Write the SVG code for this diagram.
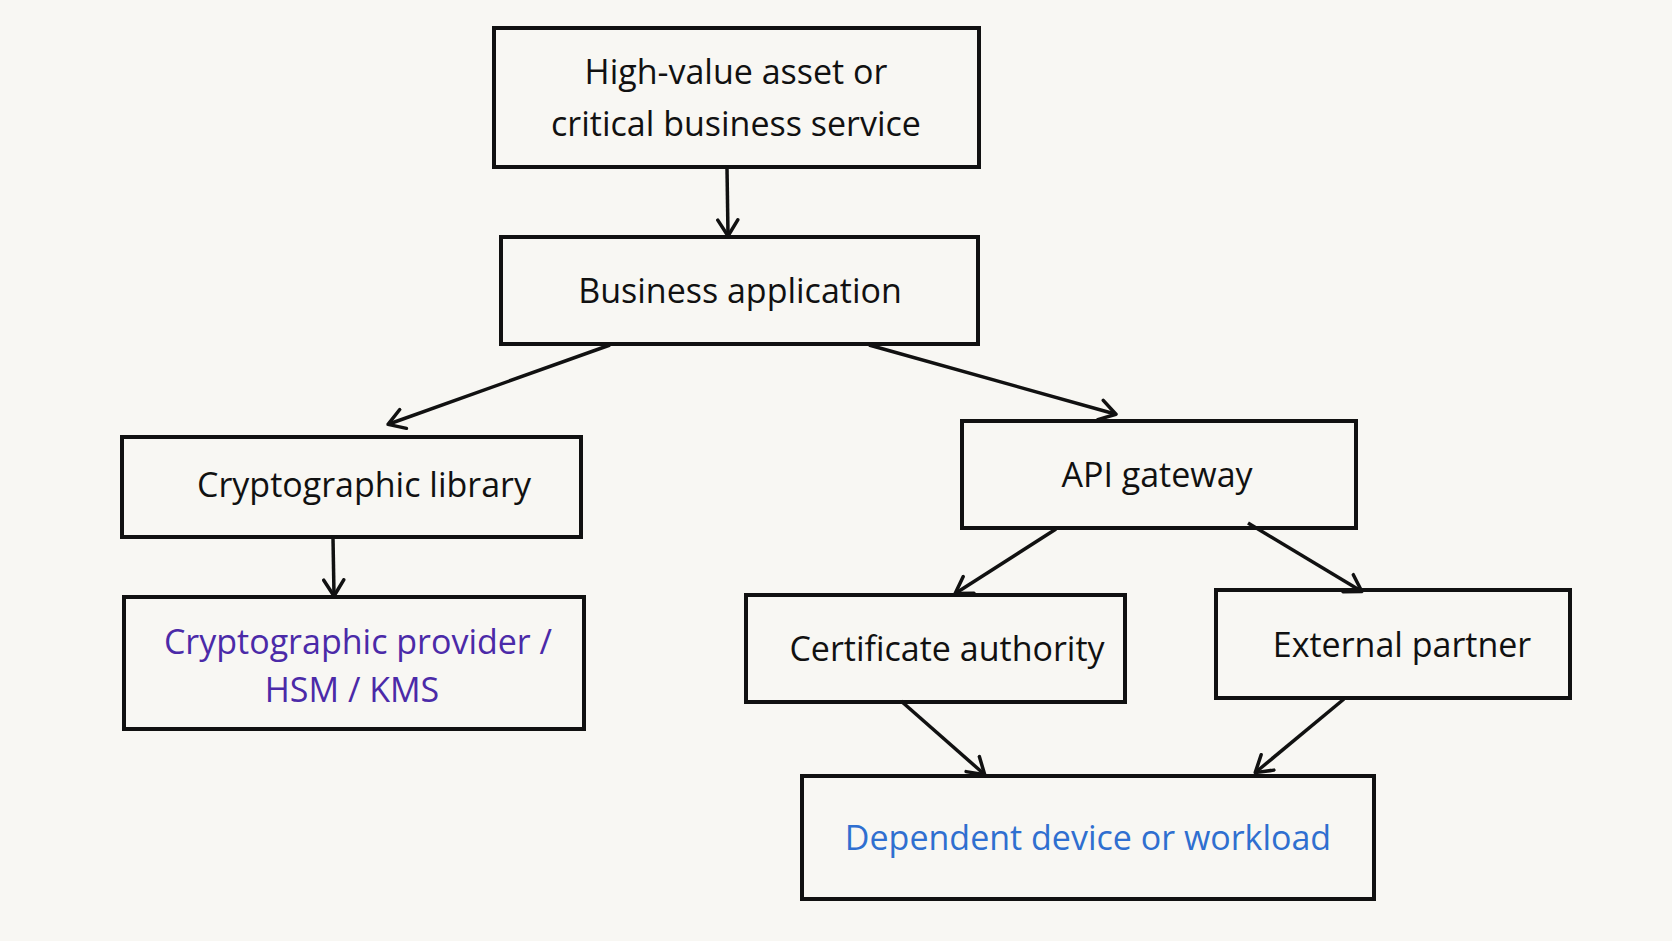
<svg xmlns="http://www.w3.org/2000/svg" width="1672" height="941" viewBox="0 0 1672 941">
<style>
.n{fill:none;stroke:#111;stroke-width:4}
.t{font-family:"Open Sans","Liberation Sans",sans-serif;font-size:34px;fill:#111;text-anchor:middle}
.c{stroke:#111;stroke-width:3.5;fill:none;marker-end:url(#a)}
</style>
<defs><marker id="a" markerWidth="22" markerHeight="24" refX="17" refY="12" orient="auto" markerUnits="userSpaceOnUse"><path d="M2,2 L18,12 L2,22" fill="none" stroke="#111" stroke-width="3.5" stroke-linecap="round" stroke-linejoin="round"/></marker></defs>
<rect width="1672" height="941" fill="#f8f7f3"/>
<g id="connectors">
<line class="c" x1="727" y1="168" x2="728" y2="235"/>
<line class="c" x1="610" y1="345" x2="389" y2="424"/>
<line class="c" x1="869" y1="345" x2="1115" y2="414"/>
<line class="c" x1="333" y1="538" x2="334" y2="595"/>
<line class="c" x1="1056" y1="529" x2="956" y2="593"/>
<line class="c" x1="1248" y1="523" x2="1361" y2="591"/>
<line class="c" x1="901" y1="701" x2="984" y2="774"/>
<line class="c" x1="1344" y1="699" x2="1256" y2="772"/>
</g>
<g id="n1"><rect class="n" x="494" y="28" width="485" height="139"/><text class="t" x="736" y="84">High-value asset or</text><text class="t" x="736" y="136">critical business service</text></g>
<g id="n2"><rect class="n" x="501" y="237" width="477" height="107"/><text class="t" x="740" y="303">Business application</text></g>
<g id="n3"><rect class="n" x="122" y="437" width="459" height="100"/><text class="t" x="364" y="497">Cryptographic library</text></g>
<g id="n4"><rect class="n" x="124" y="597" width="460" height="132"/><text class="t" x="358" y="654" style="fill:#4b2aa8">Cryptographic provider /</text><text class="t" x="352" y="702" style="fill:#4b2aa8">HSM / KMS</text></g>
<g id="n5"><rect class="n" x="962" y="421" width="394" height="107"/><text class="t" x="1157" y="487">API gateway</text></g>
<g id="n6"><rect class="n" x="746" y="595" width="379" height="107"/><text class="t" x="947" y="661">Certificate authority</text></g>
<g id="n7"><rect class="n" x="1216" y="590" width="354" height="108"/><text class="t" x="1402" y="657">External partner</text></g>
<g id="n8"><rect class="n" x="802" y="776" width="572" height="123"/><text class="t" x="1088" y="850" style="fill:#2f6fd0">Dependent device or workload</text></g>
</svg>
